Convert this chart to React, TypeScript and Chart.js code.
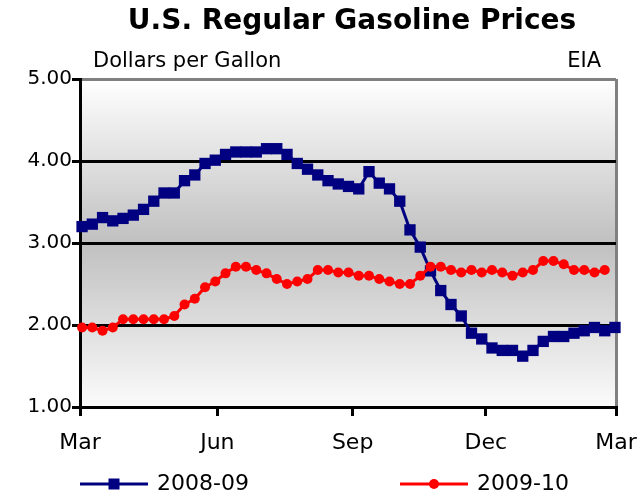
import React, { useEffect, useRef } from "react";
import { Chart, registerables } from "chart.js";

Chart.register(...registerables);

const TITLE = "U.S. Regular Gasoline Prices";
const UNITS = "Dollars per Gallon";
const SOURCE = "EIA";
const SERIES_NAMES = ["2008-09", "2009-10"];

// weekly regular gasoline prices, dollars per gallon (week 0 = first week of March)
const prices2008_09 = [
  3.2, 3.23, 3.31, 3.27, 3.3, 3.34, 3.41, 3.51, 3.61, 3.61, 3.76, 3.83, 3.97,
  4.01, 4.08, 4.11, 4.11, 4.11, 4.15, 4.15, 4.08, 3.97, 3.9, 3.83, 3.76, 3.72,
  3.69, 3.66, 3.87, 3.73, 3.66, 3.51, 3.16, 2.95, 2.66, 2.42, 2.25, 2.11, 1.9,
  1.83, 1.72, 1.69, 1.69, 1.62, 1.69, 1.8, 1.86, 1.86, 1.9, 1.93, 1.97, 1.93,
  1.97,
];
const prices2009_10 = [
  1.97, 1.97, 1.93, 1.97, 2.07, 2.07, 2.07, 2.07, 2.07, 2.11, 2.25, 2.32, 2.46,
  2.53, 2.63, 2.71, 2.71, 2.67, 2.63, 2.56, 2.5, 2.53, 2.56, 2.67, 2.67, 2.64,
  2.64, 2.6, 2.6, 2.56, 2.53, 2.5, 2.5, 2.6, 2.71, 2.71, 2.67, 2.64, 2.67,
  2.64, 2.67, 2.64, 2.6, 2.64, 2.67, 2.78, 2.78, 2.74, 2.67, 2.67, 2.64, 2.67,
];
const xTickWeeks = [-0.2, 13.2, 26.4, 39.4, 52.1];
const xTickLabels = ["Mar", "Jun", "Sep", "Dec", "Mar"];
const yMin = 1;
const yMax = 5;

const FONT = "DejaVu Sans";
const BLUE = "#000080";
const RED = "#ff0000";

export default function App() {
  const ref = useRef<HTMLCanvasElement | null>(null);

  useEffect(() => {
    document.body.style.margin = "0";
    const canvas = ref.current;
    if (!canvas) return;

    const decor = {
      id: "decor",
      beforeDraw(chart: any) {
        const { ctx, chartArea: a } = chart;
        const g = ctx.createLinearGradient(0, a.top, 0, a.bottom);
        g.addColorStop(0, "#ffffff");
        g.addColorStop(0.5, "#c0c0c0");
        g.addColorStop(1, "#fbfbfb");
        ctx.save();
        ctx.fillStyle = g;
        ctx.fillRect(a.left, a.top, a.right - a.left, a.bottom - a.top);
        ctx.restore();
      },
      afterDraw(chart: any) {
        const { ctx } = chart;
        ctx.save();
        ctx.fillStyle = "#000";
        ctx.textBaseline = "middle";
        ctx.font = `bold 28px "${FONT}"`;
        ctx.textAlign = "center";
        ctx.fillText(TITLE, 352, 22);
        ctx.font = `21px "${FONT}"`;
        ctx.textAlign = "left";
        ctx.fillText(UNITS, 93, 62);
        ctx.textAlign = "right";
        ctx.fillText(SOURCE, 601, 62);

        // legend
        const items = [
          { x: 80, color: BLUE, style: "rect", r: 8 },
          { x: 400, color: RED, style: "circle", r: 5 },
        ];
        const ly = 484;
        items.forEach((it, i) => {
          ctx.strokeStyle = it.color;
          ctx.lineWidth = 3;
          ctx.beginPath();
          ctx.moveTo(it.x, ly);
          ctx.lineTo(it.x + 68, ly);
          ctx.stroke();
          ctx.fillStyle = it.color;
          if (it.style === "rect") {
            const s = 11;
            ctx.fillRect(it.x + 34 - s / 2, ly - s / 2, s, s);
          } else {
            ctx.beginPath();
            ctx.arc(it.x + 34, ly, it.r, 0, Math.PI * 2);
            ctx.fill();
          }
          ctx.fillStyle = "#000";
          ctx.font = `22px "${FONT}"`;
          ctx.textAlign = "left";
          ctx.fillText(SERIES_NAMES[i], it.x + 77, ly);
        });
        ctx.restore();
      },
    };

    const chart = new Chart(canvas, {
      type: "line",
      data: {
        datasets: [
          {
            label: SERIES_NAMES[0],
            data: prices2008_09.map((v, i) => ({ x: i, y: v })),
            borderColor: BLUE,
            backgroundColor: BLUE,
            borderWidth: 3,
            pointStyle: "rect",
            pointRadius: 8,
            pointBorderWidth: 0,
            tension: 0,
            clip: false,
            order: 1,
          },
          {
            label: SERIES_NAMES[1],
            data: prices2009_10.map((v, i) => ({ x: i, y: v })),
            borderColor: RED,
            backgroundColor: RED,
            borderWidth: 3,
            pointStyle: "circle",
            pointRadius: 5,
            pointBorderWidth: 0,
            tension: 0,
            clip: false,
            order: 0,
          },
        ],
      },
      options: {
        animation: false,
        responsive: false,
        devicePixelRatio: 1,
        layout: { padding: { top: 79, right: 25, left: 0, bottom: 0 } },
        plugins: {
          legend: { display: false },
          title: { display: false },
          tooltip: { enabled: false },
        },
        scales: {
          x: {
            type: "linear",
            min: xTickWeeks[0],
            max: xTickWeeks[xTickWeeks.length - 1],
            afterBuildTicks: (scale: any) => {
              scale.ticks = xTickWeeks.map((v) => ({ value: v }));
            },
            afterFit: (scale: any) => {
              scale.height = 89;
              scale.paddingLeft = 0;
              scale.paddingRight = 0;
              scale.paddingTop = 0;
              scale.paddingBottom = 0;
            },
            ticks: {
              autoSkip: false,
              maxRotation: 0,
              color: "#000",
              font: { family: FONT, size: 22 },
              padding: 14,
              callback: (_v: any, i: number) => xTickLabels[i],
            },
            grid: {
              drawOnChartArea: true,
              color: (c: any) =>
                c.index === xTickWeeks.length - 1 ? "#808080" : "rgba(0,0,0,0)",
              lineWidth: 3,
              tickLength: 9,
              tickColor: "#000",
              tickWidth: 3,
            },
            border: { color: "#000", width: 3 },
          },
          y: {
            min: yMin,
            max: yMax,
            afterFit: (scale: any) => {
              scale.width = 80;
              scale.paddingLeft = 0;
              scale.paddingRight = 0;
              scale.paddingTop = 0;
              scale.paddingBottom = 0;
            },
            ticks: {
              stepSize: 1,
              color: "#000",
              font: { family: FONT, size: 20 },
              padding: 0,
              callback: (v: any) => Number(v).toFixed(2),
            },
            grid: {
              color: (c: any) => (c.tick && c.tick.value === yMax ? "#808080" : "#000"),
              lineWidth: 3,
              tickLength: 8,
              tickColor: "#000",
              tickWidth: 3,
            },
            border: { color: "#000", width: 3 },
          },
        },
      },
      plugins: [decor],
    });

    return () => chart.destroy();
  }, []);

  return <canvas ref={ref} width={641} height={496} style={{ display: "block", width: 641, height: 496 }} />;
}
